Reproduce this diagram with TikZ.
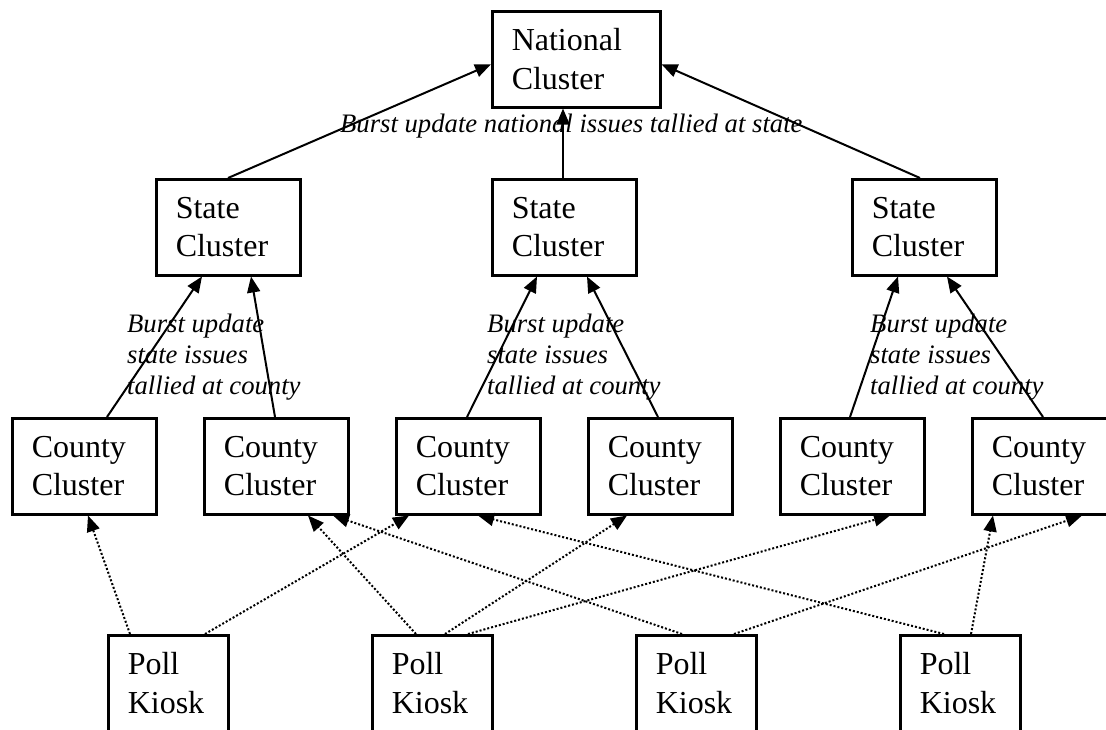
\documentclass[tikz,border=0pt]{standalone}
\usepackage{fontspec}
\setmainfont{Liberation Serif}
\usetikzlibrary{arrows.meta}
\begin{document}
\begin{tikzpicture}[x=1pt,y=-1pt,
  box/.style={draw, line width=2.5pt, rectangle, anchor=north west,
    minimum height=96pt, inner xsep=19.5pt, inner ysep=0pt, align=left,
    font=\fontsize{32}{38.5}\selectfont, text width=#1},
  box/.default=105pt,
  lbl/.style={inner sep=0pt, align=left, anchor=north west,
    font=\fontsize{26.67}{30.67}\selectfont\itshape},
  arr/.style={line width=2pt, -{Triangle[length=16pt,width=13pt]}},
  dots/.style={line width=2pt, dash pattern=on 2pt off 2pt,
    -{Triangle[length=16pt,width=13pt]}}]
\useasboundingbox (0,0) rectangle (1106,729);
\clip (0,0) rectangle (1106,729);
% boxes
\node[box=129pt] (N) at (491,10) {National\\Cluster};
\node[box] (S1) at (155,178) {State\\Cluster};
\node[box] (S2) at (491,178) {State\\Cluster};
\node[box] (S3) at (851,178) {State\\Cluster};
\node[box] (C1) at (11,417) {County\\Cluster};
\node[box] (C2) at (203,417) {County\\Cluster};
\node[box] (C3) at (395,417) {County\\Cluster};
\node[box] (C4) at (587,417) {County\\Cluster};
\node[box] (C5) at (779,417) {County\\Cluster};
\node[box] (C6) at (971,417) {County\\Cluster};
\node[box=81pt] (P1) at (107,634) {Poll\\Kiosk};
\node[box=81pt] (P2) at (371,634) {Poll\\Kiosk};
\node[box=81pt] (P3) at (635,634) {Poll\\Kiosk};
\node[box=81pt] (P4) at (899,634) {Poll\\Kiosk};
% labels
\node[lbl, anchor=base west] (Lnat) at (340,132) {Burst update national issues tallied at state};
\node[lbl] (L1) at (127,314) {Burst update\\state issues\\tallied at county};
\node[lbl] (L2) at (487,314) {Burst update\\state issues\\tallied at county};
\node[lbl] (L3) at (870,314) {Burst update\\state issues\\tallied at county};
% state -> national
\draw[arr] ([xshift=73pt]S1.north west) -- ([yshift=-5pt]N.west);
\draw[arr] ([xshift=72pt]S2.north west) -- ([xshift=72pt]N.south west);
\draw[arr] ([xshift=69pt]S3.north west) -- ([yshift=-5pt]N.east);
% county -> state
\draw[arr] ([xshift=96pt]C1.north west) -- ([xshift=47pt]S1.south west);
\draw[arr] ([xshift=72pt]C2.north west) -- ([xshift=96pt]S1.south west);
\draw[arr] ([xshift=72pt]C3.north west) -- ([xshift=46pt]S2.south west);
\draw[arr] ([xshift=71pt]C4.north west) -- ([xshift=96pt]S2.south west);
\draw[arr] ([xshift=71pt]C5.north west) -- ([xshift=47pt]S3.south west);
\draw[arr] ([xshift=72pt]C6.north west) -- ([xshift=96pt]S3.south west);
% poll -> county
\draw[dots] ([xshift=23pt]P1.north west) -- ([xshift=77pt]C1.south west);
\draw[dots] ([xshift=98pt]P1.north west) -- ([xshift=14pt]C3.south west);
\draw[dots] ([xshift=45pt]P2.north west) -- ([xshift=105pt]C2.south west);
\draw[dots] ([xshift=74pt]P2.north west) -- ([xshift=40pt]C4.south west);
\draw[dots] ([xshift=97pt]P2.north west) -- ([xshift=111pt]C5.south west);
\draw[dots] ([xshift=47pt]P3.north west) -- ([xshift=130pt]C2.south west);
\draw[dots] ([xshift=99pt]P3.north west) -- ([xshift=111pt]C6.south west);
\draw[dots] ([xshift=45pt]P4.north west) -- ([xshift=83pt]C3.south west);
\draw[dots] ([xshift=72pt]P4.north west) -- ([xshift=22pt]C6.south west);
\end{tikzpicture}
\end{document}
